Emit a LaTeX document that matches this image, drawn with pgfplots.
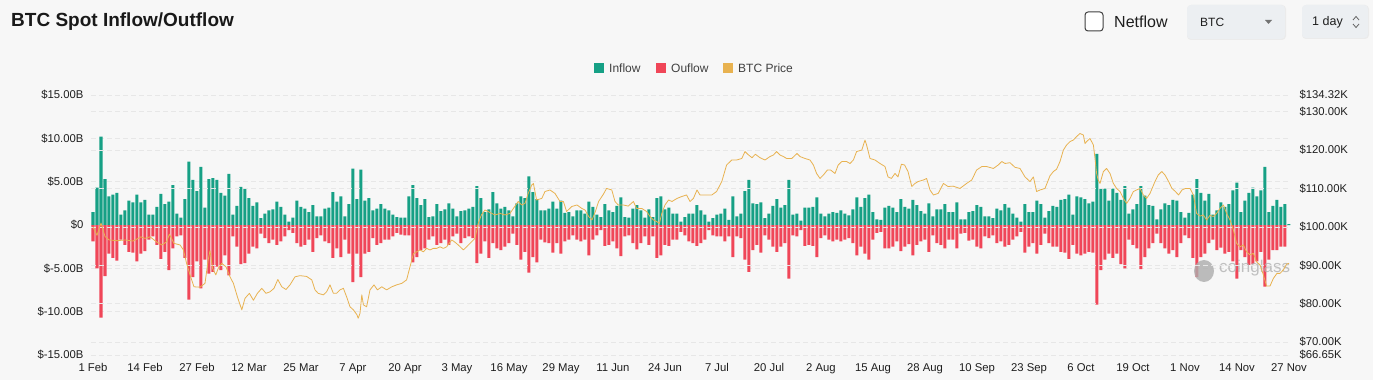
\documentclass[border=0pt]{standalone}
\usepackage{pgfplots}
\pgfplotsset{compat=1.18}
\usepackage{fontspec}
\setmainfont{Liberation Sans}
\definecolor{bg}{RGB}{247,247,247}
\definecolor{inflow}{RGB}{22,160,133}
\definecolor{outflow}{RGB}{240,70,88}
\definecolor{price}{RGB}{232,178,80}
\definecolor{gridc}{RGB}{231,231,231}
\definecolor{txt}{RGB}{30,30,30}
\definecolor{boxc}{RGB}{236,239,242}
\begin{document}
\begin{tikzpicture}[x=1pt,y=1pt]
\fill[bg] (0,0) rectangle (1373,380);
% header
\node[anchor=west,font=\fontsize{19}{21}\selectfont\bfseries,text=black!90,inner sep=0pt] at (11,358) {BTC Spot Inflow/Outflow};
\draw[black!75,line width=1pt,rounded corners=3pt,fill=white] (1085,349) rectangle (1103,368);
\node[anchor=west,font=\fontsize{16}{18}\selectfont,text=txt,inner sep=0pt] at (1114,358) {Netflow};
\fill[black!8,rounded corners=4pt] (1187,340) rectangle (1286,375);
\fill[boxc,rounded corners=4pt] (1187,341) rectangle (1285,375);
\node[anchor=west,font=\fontsize{12}{14}\selectfont,text=txt,inner sep=0pt] at (1200,358) {BTC};
\fill[black!55] (1265,360) -- (1272,360) -- (1268.5,356) -- cycle;
\fill[black!8,rounded corners=4pt] (1302,341) rectangle (1369,375);
\fill[boxc,rounded corners=4pt] (1302,342) rectangle (1368,375);
\node[anchor=west,font=\fontsize{12.5}{14}\selectfont,text=txt,inner sep=0pt] at (1312,358) {1 day};
\draw[black!60,line width=0.8pt] (1353,360) -- (1356,363.5) -- (1359,360);
\draw[black!60,line width=0.8pt] (1353,356) -- (1356,352.5) -- (1359,356);
% legend
\fill[inflow] (594,307) rectangle (604,317);
\node[anchor=west,font=\fontsize{12}{14}\selectfont,text=black!75,inner sep=0pt] at (609,312) {Inflow};
\fill[outflow] (656,307) rectangle (666,317);
\node[anchor=west,font=\fontsize{12}{14}\selectfont,text=black!75,inner sep=0pt] at (671,312) {Ouflow};
\fill[price] (723,307) rectangle (733,317);
\node[anchor=west,font=\fontsize{12}{14}\selectfont,text=black!75,inner sep=0pt] at (738,312) {BTC Price};

\begin{axis}[at={(91pt,25pt)}, anchor=south west, scale only axis,
  width=1200pt, height=260pt,
  xmin=-0.5, xmax=299.5, ymin=-15, ymax=15,
  axis line style={draw=none}, major tick length=0pt,
  ytick={-15,-10,...,15},
  yticklabels={\$-15.00B,\$-10.00B,\$-5.00B,\$0,\$5.00B,\$10.00B,\$15.00B},
  xtick={0,13,...,299},
  xticklabels={1 Feb,14 Feb,27 Feb,12 Mar,25 Mar,7 Apr,20 Apr,3 May,16 May,29 May,11 Jun,24 Jun,7 Jul,20 Jul,2 Aug,15 Aug,28 Aug,10 Sep,23 Sep,6 Oct,19 Oct,1 Nov,14 Nov,27 Nov},
  ymajorgrids, grid style={gridc, dash pattern=on 5pt off 3pt, line width=0.6pt},
  tick label style={font=\fontsize{11.3}{13}\selectfont, text=txt},
  yticklabel style={xshift=-4pt},
  xticklabel style={yshift=-5pt},
]
\addplot[ybar, bar width=3pt, bar shift=0pt, fill=inflow, draw=none] coordinates {
(0,1.5)(1,4.3)(2,10.2)(3,5.3)(4,3.3)(5,3.5)(6,3.7)(7,1.2)(8,1.7)(9,2.8)(10,2.6)(11,3.5)(12,2.6)(13,2.9)(14,1.2)(15,1.2)(16,2.1)(17,3.6)(18,2.4)(19,2.7)(20,4.6)(21,1.3)(22,0.85)(23,3.0)(24,7.3)(25,5.2)(26,3.9)(27,6.7)(28,2.0)(29,5.3)(30,5.4)(31,5.2)(32,3.7)(33,3.4)(34,5.9)(35,1.2)(36,2.2)(37,4.4)(38,4.2)(39,3.1)(40,2.2)(41,2.6)(42,0.8)(43,1.3)(44,1.7)(45,1.8)(46,2.7)(47,2.1)(48,1.2)(49,0.4)(50,0.85)(51,2.8)(52,2.1)(53,1.9)(54,1.5)(55,2.3)(56,1.0)(57,1.0)(58,1.9)(59,2.0)(60,3.8)(61,2.7)(62,3.3)(63,1.0)(64,2.4)(65,6.5)(66,3.0)(67,6.4)(68,2.8)(69,3.1)(70,1.7)(71,1.9)(72,2.4)(73,1.9)(74,1.7)(75,1.2)(76,0.9)(77,0.85)(78,0.85)(79,3.3)(80,4.6)(81,3.1)(82,2.3)(83,3.0)(84,0.9)(85,1.0)(86,2.4)(87,1.6)(88,1.8)(89,2.5)(90,1.9)(91,1.0)(92,1.6)(93,1.7)(94,1.9)(95,2.1)(96,4.5)(97,3.1)(98,1.5)(99,1.8)(100,3.8)(101,2.5)(102,1.9)(103,2.1)(104,1.7)(105,1.0)(106,2.5)(107,3.3)(108,3.1)(109,5.6)(110,3.8)(111,3.0)(112,1.7)(113,1.7)(114,1.9)(115,2.7)(116,1.9)(117,2.8)(118,1.4)(119,1.5)(120,1.0)(121,1.7)(122,1.7)(123,1.3)(124,2.7)(125,2.1)(126,1.2)(127,0.9)(128,2.4)(129,1.7)(130,1.5)(131,2.2)(132,3.2)(133,0.9)(134,0.85)(135,1.9)(136,2.3)(137,1.7)(138,0.85)(139,1.8)(140,0.9)(141,3.1)(142,3.3)(143,1.8)(144,2.0)(145,1.3)(146,1.3)(147,0.4)(148,0.9)(149,1.3)(150,1.3)(151,2.3)(152,1.7)(153,1.2)(154,0.4)(155,0.8)(156,1.2)(157,1.3)(158,1.9)(159,0.6)(160,3.3)(161,1.0)(162,1.3)(163,3.9)(164,5.2)(165,2.5)(166,2.4)(167,2.6)(168,0.8)(169,1.3)(170,2.2)(171,3.0)(172,2.0)(173,2.3)(174,5.2)(175,1.2)(176,1.3)(177,0.5)(178,2.0)(179,2.0)(180,2.1)(181,3.2)(182,1.3)(183,1.0)(184,1.3)(185,1.5)(186,1.4)(187,1.7)(188,1.3)(189,1.1)(190,1.8)(191,3.2)(192,2.1)(193,3.1)(194,3.5)(195,1.5)(196,0.65)(197,0.6)(198,2.0)(199,2.2)(200,2.0)(201,1.5)(202,3.0)(203,2.1)(204,1.9)(205,2.9)(206,2.3)(207,1.6)(208,1.3)(209,2.5)(210,1.0)(211,1.8)(212,1.8)(213,2.4)(214,1.5)(215,1.5)(216,2.6)(217,0.65)(218,0.65)(219,1.5)(220,1.6)(221,2.3)(222,2.1)(223,1.0)(224,1.0)(225,0.8)(226,1.9)(227,1.7)(228,2.4)(229,2.0)(230,1.3)(231,0.85)(232,0.4)(233,2.4)(234,1.5)(235,1.5)(236,2.8)(237,2.4)(238,0.85)(239,1.6)(240,2.2)(241,2.1)(242,2.9)(243,3.0)(244,3.5)(245,1.2)(246,3.3)(247,3.2)(248,3.0)(249,2.5)(250,2.7)(251,8.2)(252,4.2)(253,4.2)(254,2.8)(255,4.2)(256,3.7)(257,2.9)(258,4.5)(259,1.3)(260,1.8)(261,2.4)(262,4.5)(263,3.4)(264,2.3)(265,2.2)(266,0.65)(267,1.8)(268,2.5)(269,2.3)(270,2.9)(271,2.8)(272,1.5)(273,0.85)(274,1.4)(275,3.5)(276,5.3)(277,3.7)(278,2.8)(279,3.6)(280,1.2)(281,1.7)(282,2.6)(283,2.1)(284,2.4)(285,4.0)(286,4.9)(287,1.5)(288,2.8)(289,3.7)(290,4.3)(291,3.3)(292,4.0)(293,6.7)(294,1.5)(295,2.2)(296,2.9)(297,2.1)(298,2.4)(299,0.1)
};
\addplot[ybar, bar width=3pt, bar shift=0pt, fill=outflow, draw=none] coordinates {
(0,-1.9)(1,-5.0)(2,-10.7)(3,-5.9)(4,-3.3)(5,-3.8)(6,-4.1)(7,-1.7)(8,-2.3)(9,-3.1)(10,-3.2)(11,-4.2)(12,-3.3)(13,-3.0)(14,-1.7)(15,-1.3)(16,-2.3)(17,-3.9)(18,-3.1)(19,-5.2)(20,-2.7)(21,-1.3)(22,-1.2)(23,-3.8)(24,-8.6)(25,-6.0)(26,-4.2)(27,-7.3)(28,-4.0)(29,-5.6)(30,-5.4)(31,-4.8)(32,-5.2)(33,-3.5)(34,-5.8)(35,-1.3)(36,-2.5)(37,-4.5)(38,-4.4)(39,-3.3)(40,-2.5)(41,-2.7)(42,-1.0)(43,-1.5)(44,-2.1)(45,-1.7)(46,-2.3)(47,-1.9)(48,-1.3)(49,-0.6)(50,-0.9)(51,-2.1)(52,-2.5)(53,-2.3)(54,-1.7)(55,-3.1)(56,-1.5)(57,-1.2)(58,-1.9)(59,-2.1)(60,-3.8)(61,-2.7)(62,-3.7)(63,-1.7)(64,-3.3)(65,-6.6)(66,-3.3)(67,-6.0)(68,-3.3)(69,-3.1)(70,-1.5)(71,-2.3)(72,-2.1)(73,-1.7)(74,-1.7)(75,-1.3)(76,-0.9)(77,-1.1)(78,-1.2)(79,-1.2)(80,-4.3)(81,-3.7)(82,-2.9)(83,-2.7)(84,-1.7)(85,-1.3)(86,-2.3)(87,-2.1)(88,-1.7)(89,-2.3)(90,-1.3)(91,-1.0)(92,-2.1)(93,-1.5)(94,-1.3)(95,-1.5)(96,-4.4)(97,-3.3)(98,-1.9)(99,-3.8)(100,-2.1)(101,-2.7)(102,-2.9)(103,-2.5)(104,-2.1)(105,-1.0)(106,-2.3)(107,-4.0)(108,-3.1)(109,-5.5)(110,-3.7)(111,-4.3)(112,-1.7)(113,-2.0)(114,-2.1)(115,-3.2)(116,-2.1)(117,-3.3)(118,-1.9)(119,-1.7)(120,-1.2)(121,-1.7)(122,-1.9)(123,-1.7)(124,-3.5)(125,-1.7)(126,-1.2)(127,-0.6)(128,-2.4)(129,-2.3)(130,-1.9)(131,-2.7)(132,-3.6)(133,-1.3)(134,-1.2)(135,-2.1)(136,-2.8)(137,-2.1)(138,-1.3)(139,-2.3)(140,-1.3)(141,-3.8)(142,-3.5)(143,-2.3)(144,-2.4)(145,-1.7)(146,-1.7)(147,-0.8)(148,-1.2)(149,-1.9)(150,-2.1)(151,-2.4)(152,-2.1)(153,-1.7)(154,-0.6)(155,-1.2)(156,-1.3)(157,-1.3)(158,-1.9)(159,-1.3)(160,-3.7)(161,-1.3)(162,-1.5)(163,-4.0)(164,-5.4)(165,-2.9)(166,-2.3)(167,-3.2)(168,-1.2)(169,-1.7)(170,-2.5)(171,-3.1)(172,-2.5)(173,-2.1)(174,-6.2)(175,-1.2)(176,-1.3)(177,-0.6)(178,-2.4)(179,-2.3)(180,-2.4)(181,-3.7)(182,-1.5)(183,-1.2)(184,-1.7)(185,-1.9)(186,-1.7)(187,-1.9)(188,-1.7)(189,-1.5)(190,-2.1)(191,-3.5)(192,-2.5)(193,-3.3)(194,-4.0)(195,-1.7)(196,-0.9)(197,-0.8)(198,-2.7)(199,-2.7)(200,-2.5)(201,-1.9)(202,-3.0)(203,-2.5)(204,-2.2)(205,-3.5)(206,-2.3)(207,-1.9)(208,-1.7)(209,-3.1)(210,-1.2)(211,-2.1)(212,-2.3)(213,-2.7)(214,-1.7)(215,-1.7)(216,-2.7)(217,-1.0)(218,-0.9)(219,-1.8)(220,-1.7)(221,-2.5)(222,-2.7)(223,-1.3)(224,-1.5)(225,-1.2)(226,-2.1)(227,-1.9)(228,-2.5)(229,-2.3)(230,-1.7)(231,-1.3)(232,-0.8)(233,-3.2)(234,-2.5)(235,-2.1)(236,-3.3)(237,-2.3)(238,-1.0)(239,-2.1)(240,-2.5)(241,-2.5)(242,-3.1)(243,-3.2)(244,-3.9)(245,-2.3)(246,-3.3)(247,-3.5)(248,-3.3)(249,-3.1)(250,-3.2)(251,-9.2)(252,-5.2)(253,-4.0)(254,-3.3)(255,-3.8)(256,-3.3)(257,-4.5)(258,-5.0)(259,-1.7)(260,-2.3)(261,-2.7)(262,-5.1)(263,-3.7)(264,-2.7)(265,-2.1)(266,-1.0)(267,-2.1)(268,-2.7)(269,-3.3)(270,-2.9)(271,-3.7)(272,-2.1)(273,-1.2)(274,-1.5)(275,-3.8)(276,-6.0)(277,-3.7)(278,-3.3)(279,-2.1)(280,-1.7)(281,-2.9)(282,-2.6)(283,-3.3)(284,-3.1)(285,-4.2)(286,-6.2)(287,-2.9)(288,-3.7)(289,-4.6)(290,-4.5)(291,-4.2)(292,-3.1)(293,-7.1)(294,-4.0)(295,-2.9)(296,-2.9)(297,-2.5)(298,-2.5)
};
\end{axis}
% watermark (below the price line)
\fill[black!32,opacity=0.8] (1204,109) ellipse (10pt and 11pt);
\node[anchor=west,font=\fontsize{17}{19}\selectfont,text=black!30,opacity=0.8,inner sep=0pt] at (1219,112) {coinglass};

\begin{axis}[at={(91pt,25pt)}, anchor=south west, scale only axis,
  width=1200pt, height=260pt,
  xmin=-0.5, xmax=299.5, ymin=66.65, ymax=134.32,
  axis y line*=right, axis x line=none,
  axis line style={draw=none}, major tick length=0pt,
  ytick={66.65,70,80,90,100,110,120,130,134.32},
  yticklabels={\$66.65K,\$70.00K,\$80.00K,\$90.00K,\$100.00K,\$110.00K,\$120.00K,\$130.00K,\$134.32K},
  ymajorgrids, grid style={gridc, dash pattern=on 5pt off 3pt, line width=0.6pt},
  tick label style={font=\fontsize{11.3}{13}\selectfont, text=txt},
  yticklabel style={xshift=5pt},
]
\addplot[price, line width=0.8pt, line join=round] coordinates {
(0,100.0)(1,97.8)(2,101.0)(3,97.5)(4,96.6)(6,96.4)(8,96.6)(10,96.3)(12,97.4)(13,97.0)(14.25,97.4)(15.9,96.1)(17.2,95.3)(18.4,96.1)(19.1,98.1)(20.25,95.7)(21.75,95.3)(22.6,94.0)(23.4,90.5)(24.4,87.0)(25.25,84.4)(26.75,84.3)(28,85.3)(28.8,91.4)(29.25,93.8)(29.9,89.2)(30.7,87.5)(31.3,89.2)(32.2,90.5)(33.25,89.6)(34.25,87.0)(35.1,85.3)(36.1,81.8)(37.2,78.4)(38,81.4)(39.1,82.7)(40.1,80.9)(41.1,82.7)(42.2,84.0)(43.25,82.7)(44.25,83.1)(45.25,84.0)(46.2,86.3)(47.2,84.4)(48.25,83.7)(49.25,84.9)(50.5,87.0)(51.75,87.3)(53.4,87.1)(54.7,86.2)(55.5,83.6)(56.3,82.7)(57.6,82.3)(58.4,83.1)(59.25,84.9)(60.1,82.7)(60.9,82.7)(61.75,83.6)(62.6,84.0)(63.4,81.8)(64.25,79.2)(65.1,78.4)(66,77.1)(66.3,76.2)(66.75,77.5)(67.2,82.3)(67.6,79.7)(68.4,79.2)(69.25,83.6)(70.25,84.9)(71.1,83.6)(72.2,84.4)(73.4,83.6)(74.7,84.4)(75.9,84.9)(77.2,85.3)(78.4,86.2)(79.25,89.6)(80.1,93.0)(80.9,93.5)(81.75,94.0)(82.6,93.5)(83.4,94.4)(84.25,94.0)(85.1,94.4)(85.9,94.4)(86.75,94.8)(87.6,94.4)(88.4,94.8)(89.7,96.6)(90.5,96.0)(91.3,95.3)(92.6,94.0)(93.4,94.8)(94.25,95.7)(95.5,97.0)(96.3,100.9)(97.1,103.1)(98,104.4)(98.75,104.0)(99.7,103.5)(100.5,103.1)(101.75,103.5)(103,103.1)(104.25,103.5)(105.5,105.4)(106.3,106.6)(107.2,105.7)(108,106.1)(108.8,108.7)(109.7,110.9)(110.1,111.3)(110.9,107.0)(112.2,107.4)(113,109.2)(114.25,109.6)(115.5,108.7)(116.75,106.6)(117.6,106.6)(118.4,104.0)(119.7,105.3)(121,105.7)(122.2,104.8)(123,104.4)(123.9,102.7)(124.75,101.8)(125.6,104.0)(126.4,106.6)(127.6,108.5)(128.4,110.0)(129.7,109.6)(130.5,106.6)(131.3,105.7)(132.6,105.7)(133.8,105.4)(135.1,106.6)(135.9,104.8)(137.2,104.8)(138.4,104.0)(139.25,102.7)(140.1,101.8)(140.9,101.4)(141.6,100.9)(142.2,103.5)(143,105.7)(143.9,107.0)(144.75,106.6)(146,107.4)(147.2,107.9)(148.4,108.3)(149.25,106.6)(150.1,107.4)(151,109.6)(151.75,108.3)(153,108.3)(154.7,108.3)(155.9,109.2)(157.2,111.8)(158.4,116.1)(159.7,117.4)(160.9,117.4)(162.2,117.8)(163,119.6)(163.9,118.7)(164.75,118.0)(165.6,118.9)(166.75,118.0)(168,117.4)(169.25,118.3)(170.1,118.7)(170.9,119.6)(171.75,118.7)(172.6,118.3)(173.4,117.8)(174.7,117.8)(176,119.1)(176.75,118.3)(178,117.8)(179.25,117.4)(180.1,116.1)(180.9,113.9)(181.75,112.6)(182.6,113.5)(183.6,114.8)(184.4,114.8)(185.5,113.9)(186.3,116.1)(187.2,117.0)(188.4,117.0)(189.25,116.5)(190.1,117.4)(190.9,119.6)(192.2,120.0)(193,122.6)(193.4,121.3)(194.25,117.8)(195.5,117.4)(196.75,116.5)(198,115.7)(198.75,113.0)(199.6,112.6)(200.5,113.9)(201.25,113.0)(202.1,116.3)(202.9,116.1)(203.75,114.4)(204.7,110.5)(205.5,111.3)(206.3,111.8)(207.6,112.2)(208.4,112.6)(209.25,109.6)(210.1,108.3)(211.3,108.7)(212.6,111.3)(213.75,110.5)(215,110.6)(216.75,110.0)(218.4,111.3)(219.7,112.2)(220.9,114.8)(222.2,115.7)(223.4,115.7)(225.1,115.2)(226.3,116.1)(227.2,117.0)(228,116.5)(229.25,116.7)(230.5,115.5)(231.75,115.2)(233,113.0)(234.25,111.8)(235.1,113.0)(235.9,109.2)(236.75,109.6)(238,110.0)(239.25,113.3)(240.1,114.4)(240.9,115.0)(241.75,117.0)(242.6,120.0)(243.4,121.3)(244.25,122.2)(245.1,122.6)(245.9,123.5)(246.75,124.3)(247.6,123.9)(248,121.7)(248.4,122.2)(249.25,123.0)(250.1,121.3)(250.5,117.8)(250.9,113.9)(251.3,112.2)(251.75,111.3)(252.6,114.4)(253.4,115.2)(254.25,113.9)(255.1,111.3)(255.9,110.0)(256.75,109.2)(257.6,107.4)(258.4,106.1)(259.25,107.4)(260.1,109.2)(260.9,109.6)(261.75,110.0)(262.6,108.3)(263.4,107.4)(264.25,108.7)(265.5,111.8)(266.3,113.5)(267.2,114.4)(268,113.5)(268.9,111.8)(269.75,110.0)(270.6,109.2)(271.4,108.3)(272.25,109.6)(273.1,110.0)(274.25,110.0)(275.1,108.3)(275.9,103.5)(276.75,102.8)(277.6,103.1)(278.4,101.8)(279.25,103.0)(280.1,102.7)(280.9,103.5)(281.75,104.8)(282.6,105.7)(283.4,103.5)(284.25,101.8)(285.1,99.2)(285.9,95.7)(286.75,94.8)(287.6,95.3)(288.4,93.5)(289.25,92.7)(290.1,93.1)(290.9,90.9)(291.75,90.1)(292.6,87.5)(293.4,84.6)(294.25,84.6)(295.1,86.6)(296,87.9)(296.75,87.9)(297.6,88.8)(298.4,90.3)(299,90.5)
};
\end{axis}
\end{tikzpicture}
\end{document}
